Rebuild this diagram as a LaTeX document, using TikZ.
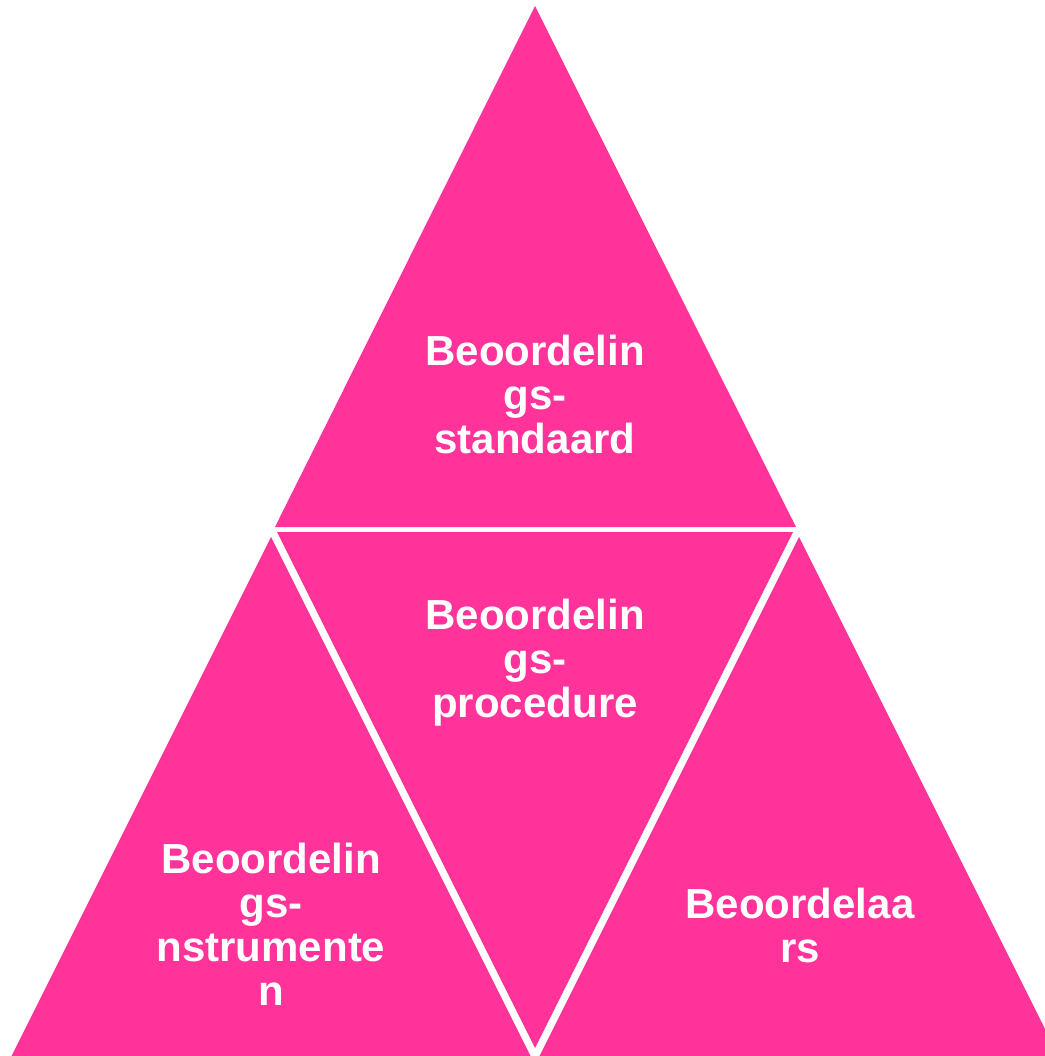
\documentclass[tikz,border=0pt]{standalone}
\usepackage{fontspec}
\setmainfont{Liberation Sans}
\definecolor{hotpink}{RGB}{255,51,153}
\begin{document}
\begin{tikzpicture}[x=0.75pt,y=-0.75pt,
  tri/.style={fill=hotpink,draw=none},
  lbl/.style={text=white,font=\bfseries\fontsize{31.5}{33}\selectfont,align=center,inner sep=0pt,anchor=base}]
\useasboundingbox (0,0) rectangle (1045,1056);
\clip (0,0) rectangle (1045,1056);
\fill[white] (0,0) rectangle (1045,1056);
% triangles
\fill[tri] (535,6) -- (275,527) -- (796,527) -- cycle;
\fill[tri] (277,532) -- (793,532) -- (535,1048) -- cycle;
\fill[tri] (271,537) -- (11,1057) -- (531,1057) -- cycle;
\fill[tri] (799,537) -- (539,1057) -- (1059,1057) -- cycle;
% labels (anchor base = baseline of last line)
\node[lbl] (top) at (535,453) {Beoordelin\\gs-\\standaard};
\node[lbl] (mid) at (535,717) {Beoordelin\\gs-\\procedure};
\node[lbl] (left) at (271,1005) {Beoordelin\\gs-\\nstrumente\\n};
\node[lbl] (right) at (800,962) {Beoordelaa\\rs};
\end{tikzpicture}
\end{document}
